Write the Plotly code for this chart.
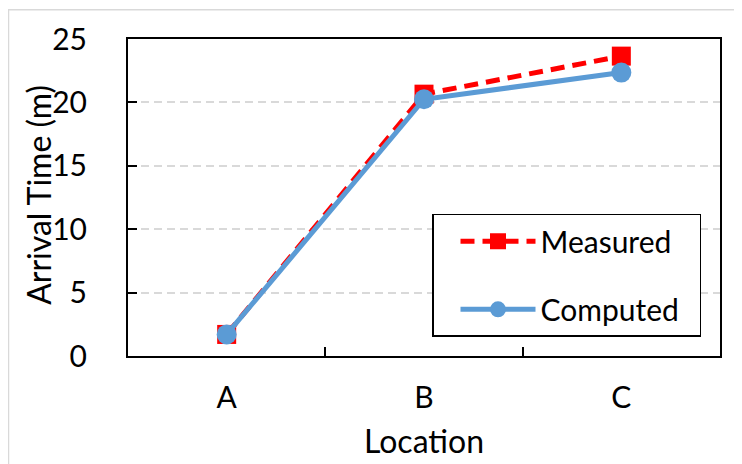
import plotly.graph_objects as go

categories = ["A", "B", "C"]
measured = [1.7, 20.65, 23.65]
computed = [1.7, 20.25, 22.35]
y_ticks = [0, 5, 10, 15, 20, 25]

FONT = "Lato"
FS = 30
NB = "\u00a0\u00a0"

fig = go.Figure()
fig.add_trace(go.Scatter(
    x=categories, y=measured, name="Measured" + NB, mode="lines+markers",
    legendgroup="m",
    line=dict(color="#ff0000", width=5, dash="14px,8px"),
    marker=dict(symbol="square", size=19, color="#ff0000"),
))
fig.add_trace(go.Scatter(
    x=categories, y=computed, name="Computed" + NB, mode="lines+markers",
    legendgroup="c",
    line=dict(color="#5b9bd5", width=5),
    marker=dict(symbol="circle", size=20, color="#5b9bd5"),
))

fig.update_layout(
    width=734, height=456,
    margin=dict(l=120, r=22, t=31, b=108, autoexpand=False),
    paper_bgcolor="white", plot_bgcolor="white",
    font=dict(family=FONT, size=FS, color="black"),
    showlegend=True,
    legend=dict(
        x=(432 - 128) / 592, y=(356 - 214) / 316.7, xanchor="left", yanchor="top",
        bordercolor="black", borderwidth=1.5, bgcolor="white",
        font=dict(family=FONT, size=FS),
        itemwidth=75, indentation=22, traceorder="grouped", tracegroupgap=26,
    ),
    shapes=[dict(type="rect", xref="paper", yref="paper",
                 x0=(8.5 - 128) / 592, x1=1.2, y0=-0.5, y1=(356 - 10) / 316.7,
                 line=dict(color="#d9d9d9", width=1.5), layer="below")],
    annotations=[dict(text="Arrival Time (m)", xref="paper", yref="paper",
                      x=(39 - 128) / 592, y=(356 - 195) / 316.7,
                      xanchor="center", yanchor="middle", textangle=-90,
                      showarrow=False, font=dict(family=FONT, size=32))],
)
fig.update_xaxes(
    type="category", range=[-0.5, 2.5],
    showline=True, linecolor="black", linewidth=2, mirror=True,
    ticks="inside", tickson="boundaries", ticklen=9, tickwidth=2, tickcolor="black",
    showgrid=False, ticklabelstandoff=14,
    title=dict(text="Location", standoff=18, font=dict(family=FONT, size=32)),
)
fig.update_yaxes(
    range=[0, 25], tickvals=y_ticks,
    showline=True, linecolor="black", linewidth=2, mirror=True,
    ticks="inside", ticklen=9, tickwidth=2, tickcolor="black",
    showgrid=True, gridcolor="#d9d9d9", gridwidth=1.5, griddash="8px,5px",
    zeroline=False, ticklabelstandoff=33,
)

fig.write_html("out.html")
